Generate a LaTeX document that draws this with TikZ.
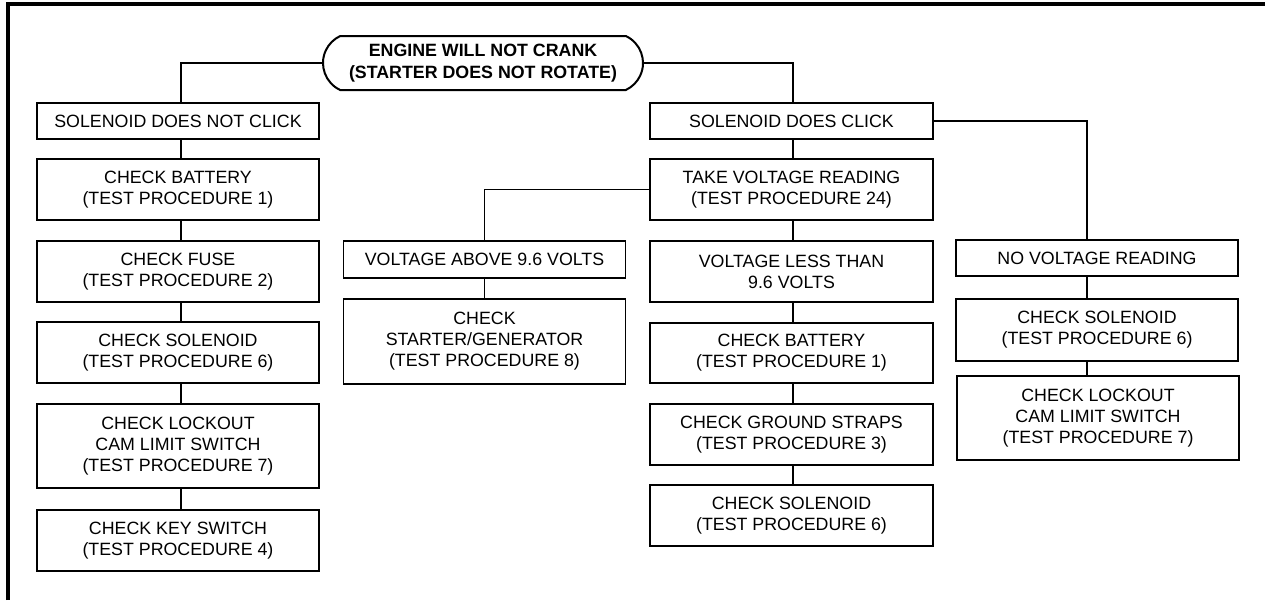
\documentclass[tikz,border=0pt]{standalone}
\usepackage{fontspec}
\setmainfont{Liberation Sans}
\usetikzlibrary{shapes.misc,calc}
\begin{document}
\begin{tikzpicture}[x=1pt,y=-1pt,
  every node/.style={font=\fontsize{17.8}{21}\selectfont, inner sep=0pt, align=center},
  box/.style={draw, line width=1.2pt, minimum width=282pt},
  h1/.style={minimum height=36pt},
  h2/.style={minimum height=61pt},
  h3/.style={minimum height=84pt},
  link/.style={line width=1.1pt},
  topbox/.style={draw, line width=2pt, rounded rectangle, rounded rectangle arc length=130,
    minimum width=320pt, minimum height=54pt, font=\fontsize{17.8}{22}\selectfont\bfseries}]
\useasboundingbox (0,0) rectangle (1265,600);
% frame
\draw[line width=4pt] (8,600) -- (8,4) -- (1265,4);
% top
\node[topbox] (top) at (483,63) {ENGINE WILL NOT CRANK\\(STARTER DOES NOT ROTATE)};
% left column
\node[box,h1] (nc) at (178,121) {SOLENOID DOES NOT CLICK};
\node[box,h2] (lb) at (178,189.5) {CHECK BATTERY\\(TEST PROCEDURE 1)};
\node[box,h2] (lf) at (178,271.5) {CHECK FUSE\\(TEST PROCEDURE 2)};
\node[box,h2] (ls) at (178,352.5) {CHECK SOLENOID\\(TEST PROCEDURE 6)};
\node[box,h3] (ll) at (178,446) {CHECK LOCKOUT\\CAM LIMIT SWITCH\\(TEST PROCEDURE 7)};
\node[box,h2] (lk) at (178,540.5) {CHECK KEY SWITCH\\(TEST PROCEDURE 4)};
% mid-left column
\node[box,h1,minimum height=37pt] (va) at (484.5,259.5) {VOLTAGE ABOVE 9.6 VOLTS};
\node[box,h3,minimum height=85pt] (cs) at (484.5,341.5) {CHECK\\STARTER/GENERATOR\\(TEST PROCEDURE 8)};
% middle column
\node[box,h1,minimum width=283pt] (dc) at (791.5,121) {SOLENOID DOES CLICK};
\node[box,h2,minimum width=283pt] (tv) at (791.5,189.5) {TAKE VOLTAGE READING\\(TEST PROCEDURE 24)};
\node[box,h2,minimum width=283pt] (vl) at (791.5,271.5) {VOLTAGE LESS THAN\\9.6 VOLTS};
\node[box,h2,minimum width=283pt,minimum height=60pt] (mb) at (791.5,353) {CHECK BATTERY\\(TEST PROCEDURE 1)};
\node[box,h2,minimum width=283pt] (mg) at (791.5,434.5) {CHECK GROUND STRAPS\\(TEST PROCEDURE 3)};
\node[box,h2,minimum width=283pt] (ms) at (791.5,515.5) {CHECK SOLENOID\\(TEST PROCEDURE 6)};
% right column
\node[box,h1] (nv) at (1097,258) {NO VOLTAGE READING};
\node[box,h2,minimum height=62pt] (rs) at (1097,330) {CHECK SOLENOID\\(TEST PROCEDURE 6)};
\node[box,h3] (rl) at (1098,418) {CHECK LOCKOUT\\CAM LIMIT SWITCH\\(TEST PROCEDURE 7)};
% connectors
\draw[link] (top.west) -| ([xshift=3pt]nc.north);
\draw[link] (top.east) -| ([xshift=1.5pt]dc.north);
\draw[link] (dc.east) -| ([xshift=-10pt]nv.north);
\draw[link] (tv.west) -| (va.north);
\foreach \a/\b in {nc/lb,lb/lf,lf/ls,ls/ll,ll/lk}
  \draw[link] ([xshift=3pt]\a.south) -- ([xshift=3pt]\b.north);
\foreach \a/\b in {dc/tv,tv/vl,vl/mb,mb/mg,mg/ms}
  \draw[link] ([xshift=1.5pt]\a.south) -- ([xshift=1.5pt]\b.north);
\draw[link] (va.south) -- (cs.north);
\draw[link] ([xshift=-10pt]nv.south) -- ([xshift=-10pt]rs.north);
\draw[link] ([xshift=-10pt]rs.south) -- ([xshift=-11pt]rl.north);
\end{tikzpicture}
\end{document}
